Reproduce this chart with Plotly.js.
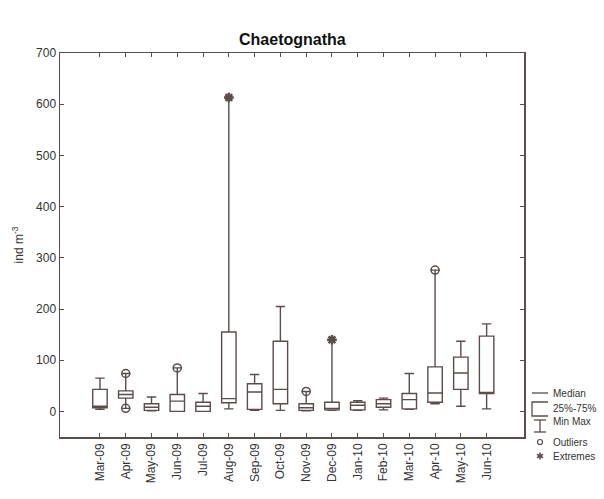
<!DOCTYPE html>
<html>
<head>
<meta charset="utf-8">
<script src="https://cdn.plot.ly/plotly-3.0.1.min.js"></script>
<style>html,body{margin:0;padding:0;background:#fff;}#chart{width:604px;height:499px;}</style>
</head>
<body>
<div id="chart"></div>
<script>
// ---- data ----
const months = ['Mar-09','Apr-09','May-09','Jun-09','Jul-09','Aug-09','Sep-09','Oct-09','Nov-09','Dec-09','Jan-10','Feb-10','Mar-10','Apr-10','May-10','Jun-10'];
const minVals = [4, 6, 1, 0, 0, 5, 2, 2, 1, 2, 2, 3, 4, 15, 10, 5];
const q1Vals  = [7, 26, 2, 0, 0, 17, 4, 15, 2, 3, 3, 8, 5, 18, 43, 35];
const medVals = [10, 33, 8, 20, 10, 25, 38, 43, 7, 6, 12, 15, 23, 36, 75, 37];
const q3Vals  = [43, 40, 15, 33, 18, 155, 54, 137, 15, 18, 18, 23, 35, 87, 106, 147];
const maxVals = [65, 74, 28, 85, 35, 613, 72, 205, 39, 140, 21, 26, 74, 276, 137, 171];
const outlierMonths = ['Apr-09','Apr-09','Jun-09','Nov-09','Apr-10'];
const outlierVals   = [74, 6, 85, 39, 276];
const extremeMonths = ['Aug-09','Dec-09'];
const extremeVals   = [613, 140];
const yTicks = [0, 100, 200, 300, 400, 500, 600, 700];
const legendLabels = ['Median', '25%-75%', 'Min Max', 'Outliers', 'Extremes'];

// ---- layout helpers ----
const LINE = '#5b4d4b';
const FONT = 'Liberation Sans, Arial, sans-serif';
const W = 604, H = 499;
const M = {l: 60, r: 80, t: 53, b: 62};
const PW = W - M.l - M.r, PH = H - M.t - M.b;
const px = x => (x - M.l) / PW;
const py = y => (H - M.b - y) / PH;

const traces = [
  {
    type: 'box',
    x: months,
    q1: q1Vals, median: medVals, q3: q3Vals,
    lowerfence: minVals, upperfence: maxVals,
    boxpoints: false,
    fillcolor: 'rgba(255,255,255,0)',
    line: {color: LINE, width: 1.4},
    whiskerwidth: 0.65,
    hoverinfo: 'skip',
    showlegend: false
  },
  {
    type: 'scatter', mode: 'markers',
    x: outlierMonths, y: outlierVals,
    marker: {symbol: 'circle-open', size: 8, color: LINE, line: {width: 1.5, color: LINE}},
    cliponaxis: false, showlegend: false, hoverinfo: 'skip'
  },
  {
    type: 'scatter', mode: 'markers',
    x: extremeMonths, y: extremeVals,
    marker: {symbol: 'asterisk-open', size: 8, color: LINE, line: {width: 2.4, color: LINE}},
    cliponaxis: false, showlegend: false, hoverinfo: 'skip'
  }
];

// legend drawn with shapes + annotations
const shapes = [];
const annotations = [];
const lgX0 = 532, lgX1 = 548, lgXc = 540, lgText = 551;
// median line
shapes.push({type:'line', xref:'paper', yref:'paper', x0:px(lgX0), x1:px(lgX1), y0:py(393), y1:py(393), line:{color:LINE, width:1.3}});
// box bracket
shapes.push({type:'path', xref:'paper', yref:'paper',
  path:`M ${px(lgX1)} ${py(402)} L ${px(lgX0)} ${py(402)} L ${px(lgX0)} ${py(416)} L ${px(lgX1)} ${py(416)}`,
  line:{color:LINE, width:1.3}});
// min max whisker
shapes.push({type:'line', xref:'paper', yref:'paper', x0:px(lgXc-6), x1:px(lgXc+6), y0:py(420), y1:py(420), line:{color:LINE, width:1.3}});
shapes.push({type:'line', xref:'paper', yref:'paper', x0:px(lgXc), x1:px(lgXc), y0:py(420), y1:py(432), line:{color:LINE, width:1.3}});
shapes.push({type:'line', xref:'paper', yref:'paper', x0:px(lgXc-6), x1:px(lgXc+6), y0:py(432), y1:py(432), line:{color:LINE, width:1.3}});
// outlier circle
shapes.push({type:'circle', xref:'paper', yref:'paper', x0:px(lgXc-2.5), x1:px(lgXc+2.5), y0:py(444.5), y1:py(439.5), line:{color:LINE, width:1.2}});
// extreme asterisk
[[0,3.5],[3,1.8],[3,-1.8]].forEach(([dx,dy]) => {
  shapes.push({type:'line', xref:'paper', yref:'paper', x0:px(lgXc-dx), x1:px(lgXc+dx), y0:py(456-dy), y1:py(456+dy), line:{color:LINE, width:1.6}});
});
const textY = [393, 408, 421, 442, 456];
legendLabels.forEach((t, i) => {
  annotations.push({text: t, xref:'paper', yref:'paper', x: px(lgText), y: py(textY[i]),
    xanchor:'left', yanchor:'middle', showarrow:false, font:{family:FONT, size:10, color:'#333'}});
});

const layout = {
  width: W, height: H,
  margin: M,
  paper_bgcolor: '#fff', plot_bgcolor: '#fff',
  title: {text: '<b>Chaetognatha</b>', font: {family: FONT, size: 16, color: '#111'}, x: 0.484, xanchor: 'center', y: 0.922, yanchor: 'middle'},
  font: {family: FONT, color: '#333'},
  showlegend: false,
  boxgap: 0.2,
  xaxis: {
    type: 'category', categoryorder: 'array', categoryarray: months,
    range: [-1.55, 16.45],
    showgrid: false, zeroline: false,
    showline: true, linecolor: LINE, linewidth: 1.5, mirror: 'ticks',
    ticks: 'inside', ticklen: 4, tickcolor: LINE,
    tickangle: -90, tickfont: {family: FONT, size: 12, color: '#333'}
  },
  yaxis: {
    range: [-50, 700],
    tickvals: yTicks,
    showgrid: false, zeroline: false,
    showline: true, linecolor: LINE, linewidth: 1.5, mirror: 'ticks',
    ticks: 'inside', ticklen: 4, tickcolor: LINE,
    tickfont: {family: FONT, size: 12, color: '#333'},
    title: {text: 'ind m<sup>-3</sup>', font: {family: FONT, size: 12, color: '#333'}, standoff: 10}
  },
  shapes: shapes,
  annotations: annotations
};

Plotly.newPlot('chart', traces, layout, {staticPlot: true, displayModeBar: false});
</script>
</body>
</html>
